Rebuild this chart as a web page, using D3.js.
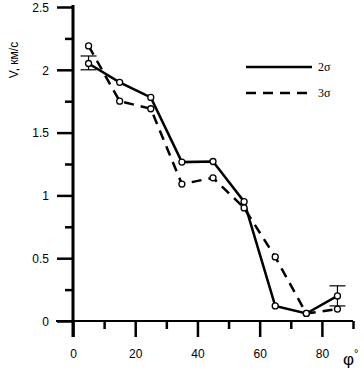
<!DOCTYPE html>
<html><head><meta charset="utf-8">
<script src="https://cdn.jsdelivr.net/npm/d3@7/dist/d3.min.js"></script>
<style>body{margin:0;background:#fff}svg{display:block}</style>
</head><body>
<svg id="c" width="364" height="370"></svg>
<script>
const phi = [5, 15, 25, 35, 45, 55, 65, 75, 85];
const v2s = [2.05, 1.9, 1.78, 1.265, 1.27, 0.95, 0.12, 0.06, 0.2];
const v3s = [2.19, 1.75, 1.69, 1.09, 1.14, 0.9, 0.51, 0.06, 0.095];
const errPhi = [5, 85];
const errLow = [2.0, 0.12];
const errHigh = [2.11, 0.28];
const xMajor = [0, 20, 40, 60, 80];
const xMinor = [10, 30, 50, 70, 90];
const yMajor = [0, 0.5, 1, 1.5, 2, 2.5];
const yMinor = [0.25, 0.75, 1.25, 1.75, 2.25];
const legendLabels = ["2σ", "3σ"];

const svg = d3.select("#c");
const x = d3.scaleLinear().domain([0, 90]).range([73, 353]);
const y = d3.scaleLinear().domain([0, 2.5]).range([321, 7]);
const fmt = d => String(d);

// axes lines
svg.append("line").attr("x1", 56).attr("x2", x(90)).attr("y1", y(0)).attr("y2", y(0))
  .attr("stroke", "#000").attr("stroke-width", 2);
svg.append("line").attr("x1", x(0)).attr("x2", x(0)).attr("y1", y(2.5) - 2).attr("y2", 337)
  .attr("stroke", "#000").attr("stroke-width", 3);

// x axis
const gx = svg.append("g").attr("transform", `translate(0,${y(0)})`)
  .call(d3.axisBottom(x).tickValues(xMajor).tickSize(16).tickPadding(12).tickFormat(fmt));
const gx2 = svg.append("g").attr("transform", `translate(0,${y(0)})`)
  .call(d3.axisBottom(x).tickValues(xMinor).tickSize(8).tickFormat(""));
// y axis
const gy = svg.append("g").attr("transform", `translate(${x(0)},0)`)
  .call(d3.axisLeft(y).tickValues(yMajor).tickSize(16).tickPadding(8).tickFormat(fmt));
const gy2 = svg.append("g").attr("transform", `translate(${x(0)},0)`)
  .call(d3.axisLeft(y).tickValues(yMinor).tickSize(8).tickFormat(""));
[gx, gx2, gy, gy2].forEach(g => {
  g.select(".domain").remove();
  g.selectAll(".tick line").attr("stroke", "#000").attr("stroke-width", 2.5);
  g.selectAll(".tick text").attr("fill", "#000")
    .style("font-family", "'Liberation Sans', Arial, sans-serif").style("font-size", "12px");
});
gy.selectAll(".tick text").attr("dy", "0.35em");

// lines
const line = d3.line().x(d => x(d[0])).y(d => y(d[1]));
const d2 = phi.map((p, i) => [p, v2s[i]]);
const d3s = phi.map((p, i) => [p, v3s[i]]);
svg.append("path").datum(d3s).attr("d", line).attr("fill", "none")
  .attr("stroke", "#000").attr("stroke-width", 2.5).attr("stroke-dasharray", "10,7");
svg.append("path").datum(d2).attr("d", line).attr("fill", "none")
  .attr("stroke", "#000").attr("stroke-width", 2.5);

// error bars
errPhi.forEach((p, i) => {
  const g = svg.append("g").attr("stroke", "#000").attr("stroke-width", 1.2);
  g.append("line").attr("x1", x(p)).attr("x2", x(p)).attr("y1", y(errLow[i])).attr("y2", y(errHigh[i]));
  [errLow[i], errHigh[i]].forEach(v => {
    g.append("line").attr("x1", x(p) - 8).attr("x2", x(p) + 8).attr("y1", y(v)).attr("y2", y(v));
  });
});

// markers
[d2, d3s].forEach(ds => {
  svg.append("g").selectAll("circle").data(ds).join("circle")
    .attr("cx", d => x(d[0])).attr("cy", d => y(d[1])).attr("r", 3)
    .attr("fill", "#fff").attr("stroke", "#000").attr("stroke-width", 1.3);
});

// legend
const leg = [{y: 67, dash: null}, {y: 93, dash: "10,7"}];
leg.forEach((l, i) => {
  svg.append("line").attr("x1", 246).attr("x2", 312).attr("y1", l.y).attr("y2", l.y)
    .attr("stroke", "#000").attr("stroke-width", 2.5).attr("stroke-dasharray", l.dash);
  svg.append("text").attr("x", 318).attr("y", l.y + 4).text(legendLabels[i])
    .style("font-family", "'Liberation Serif', 'Times New Roman', serif").style("font-size", "12px");
});

// axis titles
svg.append("text").attr("transform", "translate(18,60) rotate(-90)").attr("text-anchor", "middle")
  .style("font-family", "'Liberation Sans', Arial, sans-serif").style("font-size", "12px")
  .text("V, км/с");
const xt = svg.append("text").attr("x", 343).attr("y", 365)
  .style("font-family", "'Liberation Sans', Arial, sans-serif").style("font-size", "17px");
xt.append("tspan").text("φ");
xt.append("tspan").attr("dy", -8).style("font-size", "11px").text("°");
</script>
</body></html>
